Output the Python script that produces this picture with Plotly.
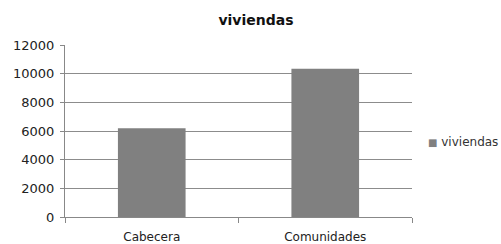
import plotly.graph_objects as go

categories = ["Cabecera", "Comunidades"]
viviendas = [6200, 10350]
y_ticks = [0, 2000, 4000, 6000, 8000, 10000, 12000]
y_tick_labels = ["0", "2000", "4000", "6000", "8000", "10000", "12000"]
series_name = "viviendas"
bar_color = "#808080"

fig = go.Figure()
fig.add_trace(go.Bar(
    x=categories, y=viviendas, name=series_name,
    marker=dict(color=bar_color, line=dict(width=0)),
    showlegend=False,
))

# legend drawn as a text annotation with a coloured square swatch
fig.add_annotation(
    text=f"<span style='color:{bar_color};font-size:10px'>■</span> {series_name}",
    xref="paper", yref="paper", x=1.04, y=0.436,
    xanchor="left", yanchor="middle", showarrow=False,
    font=dict(family="DejaVu Sans", size=12, color="#333333"),
)

fig.update_layout(
    width=501, height=244,
    margin=dict(l=65, r=89, t=45, b=27),
    paper_bgcolor="white", plot_bgcolor="white",
    bargap=0.61,
    font=dict(family="DejaVu Sans", size=11, color="#222222"),
    title=dict(text="<b>viviendas</b>", x=256/501, xref="container", xanchor="center",
               y=1 - 20/244, yref="container", yanchor="middle",
               font=dict(family="DejaVu Sans", size=14, color="#111111")),
    showlegend=False,
    xaxis=dict(showline=True, linecolor="#888888", linewidth=1,
               ticks="outside", tickson="boundaries", ticklen=5, tickcolor="#888888",
               ticklabelstandoff=9, automargin=False,
               showgrid=False, tickfont=dict(size=12, color="#222222")),
    yaxis=dict(range=[0, 12000], tickvals=y_ticks, ticktext=y_tick_labels,
               showline=True, linecolor="#888888",
               linewidth=1, ticks="outside", ticklen=4, tickcolor="#888888",
               ticklabelstandoff=3, automargin=False,
               showgrid=True, gridcolor="#8c8c8c", gridwidth=1, zeroline=False,
               tickfont=dict(size=13, color="#222222")),
)

fig.write_html("out.html", config={"displayModeBar": False},
               post_script="document.body.style.margin='0';document.body.style.padding='0';")
